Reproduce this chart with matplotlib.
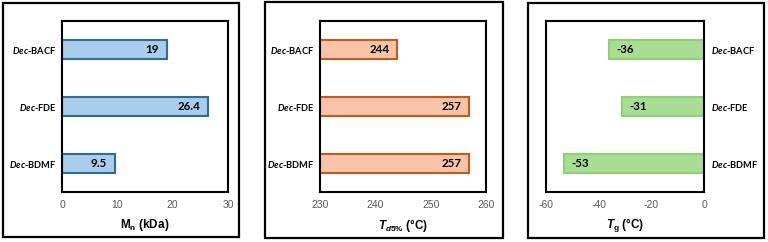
import matplotlib
matplotlib.use("Agg")
import matplotlib.pyplot as plt
from matplotlib.patches import Rectangle

plt.rcParams['mathtext.fontset'] = 'custom'
plt.rcParams['mathtext.bfit'] = 'Lato:italic:bold'
plt.rcParams['mathtext.it'] = 'Liberation Sans:italic:bold'
plt.rcParams['mathtext.rm'] = 'Liberation Sans:bold'
plt.rcParams['mathtext.bf'] = 'Liberation Sans:bold'

categories = ["BACF", "FDE", "BDMF"]
mn_values = [19, 26.4, 9.5]
mn_labels = ["19", "26.4", "9.5"]
td_values = [244, 257, 257]
td_labels = ["244", "257", "257"]
tg_values = [-36, -31, -53]
tg_labels = ["-36", "-31", "-53"]

mn_ticks = [0, 10, 20, 30]
td_ticks = [230, 240, 250, 260]
tg_ticks = [-60, -40, -20, 0]

W, H = 768, 242
fig = plt.figure(figsize=(W / 100, H / 100), dpi=100)

def ax_rect(x0, x1, y0, y1):
    return [x0 / W, 1 - y1 / H, (x1 - x0) / W, (y1 - y0) / H]

def frame(x0, x1, y0, y1):
    fig.patches.append(Rectangle((x0 / W, 1 - y1 / H), (x1 - x0) / W, (y1 - y0) / H,
                                 transform=fig.transFigure, fill=False,
                                 edgecolor='black', linewidth=1.6))

frame(3, 239, 3, 237)
frame(265, 503, 2, 238)
frame(528, 764, 3, 238)

tick_font = dict(family='Liberation Sans', size=7.5, color='#595959')
val_font = dict(family='Lato', size=8.3, fontweight='bold', color='black')
cat_font = dict(family='Lato', size=6.7, fontweight='bold', color='black')

def cat_label(c):
    return r"$\mathbfit{Dec}$" + "-" + c

def setup(ax, xlim, ticks, xlabel, left, base, values, labels, fc, ec, label_side):
    ypos = [0, 1, 2]
    ax.barh(ypos, [v - base for v in values], left=base, height=0.32,
            color=fc, edgecolor=ec, linewidth=1.5)
    ax.set_xlim(*xlim)
    ax.set_ylim(2.5, -0.5)
    ax.set_xticks(ticks)
    ax.set_xticklabels([str(t) for t in ticks], **tick_font)
    ax.tick_params(axis='both', length=0, pad=6)
    ax.set_yticks(ypos)
    ax.set_yticklabels([cat_label(c) for c in categories], **cat_font)
    if label_side == 'right':
        ax.yaxis.tick_right()
        ax.tick_params(axis='y', pad=5)
    else:
        ax.tick_params(axis='y', pad=4)
    ax.set_xlabel(xlabel, family='Liberation Sans', fontsize=8.5, fontweight='bold', labelpad=5)
    for s in ax.spines.values():
        s.set_linewidth(1.5)
        s.set_color('black')
    for y, v, l in zip(ypos, values, labels):
        if left:
            ax.annotate(l, (v, y), xytext=(-8, 0), textcoords='offset pixels',
                        ha='right', va='center', **val_font)
        else:
            ax.annotate(l, (v, y), xytext=(7, 0), textcoords='offset pixels',
                        ha='left', va='center', **val_font)

ax1 = fig.add_axes(ax_rect(62, 228, 21, 192))
setup(ax1, (0, 30), mn_ticks, r"M$_\mathregular{n}$ (kDa)", True, 0, mn_values, mn_labels,
      '#A9CDEB', '#2A6E9E', 'left')

ax2 = fig.add_axes(ax_rect(320, 486, 21, 192))
setup(ax2, (230, 260), td_ticks, r"$T_{d5\%}$ (°C)", True, 230, td_values, td_labels,
      '#F8C3A8', '#C55A11', 'left')

ax3 = fig.add_axes(ax_rect(546, 704, 21, 192))
setup(ax3, (-60, 0), tg_ticks, r"$T_\mathregular{g}$ (°C)", False, 0, tg_values, tg_labels,
      '#A8DE94', '#8CD26E', 'right')

fig.savefig("out.png", dpi=100)
